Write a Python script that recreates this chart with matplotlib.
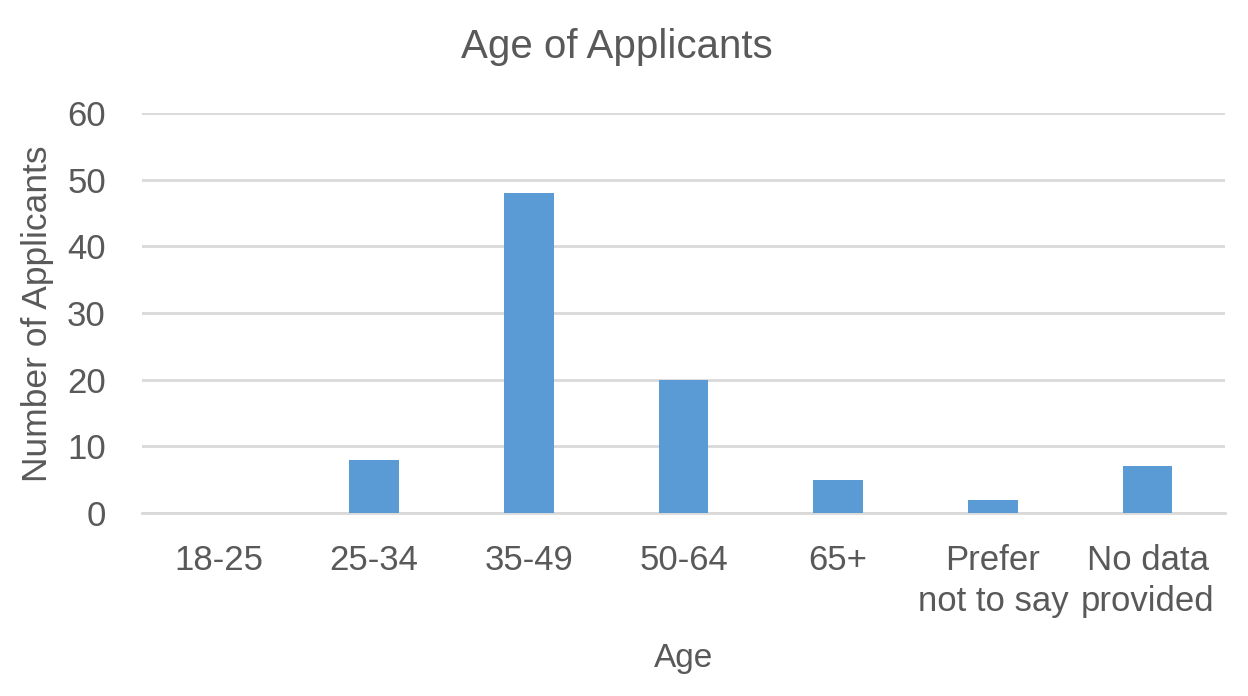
import numpy as np
import matplotlib.pyplot as plt

plt.rcParams['font.family'] = ['Liberation Sans', 'DejaVu Sans']

categories = ["18-25", "25-34", "35-49", "50-64", "65+", "Prefer\nnot to say", "No data\nprovided"]
applicants = [0, 8, 48, 20, 5, 2, 7]
y_ticks = [0, 10, 20, 30, 40, 50, 60]

text_color = "#595959"
bar_color = "#5B9BD5"
grid_color = "#D9D9D9"

W, H = 1248, 696
fig = plt.figure(figsize=(W / 100, H / 100), dpi=100)
ax = fig.add_axes([142 / W, 1 - 513 / H, (1225 - 142) / W, 400 / H])

x = np.arange(len(categories))
ax.bar(x, applicants, width=0.32, color=bar_color, zorder=3)

ax.set_xlim(-0.5, len(categories) - 0.5)
ax.set_ylim(0, 60)
ax.set_yticks(y_ticks)
ax.set_xticks(x)
ax.set_xticklabels(categories, linespacing=1.32)
ax.yaxis.grid(True, color=grid_color, linewidth=2, zorder=0)
ax.tick_params(axis='both', length=0, labelsize=25, colors=text_color)
ax.tick_params(axis='y', pad=26)
ax.tick_params(axis='x', pad=22)
for s in ["top", "right", "left"]:
    ax.spines[s].set_visible(False)
ax.spines["bottom"].set_color(grid_color)
ax.spines["bottom"].set_linewidth(2)

fig.text(617 / W, 1 - 47 / H, "Age of Applicants", fontsize=29, color=text_color,
         ha='center', va='center')
fig.text(684 / W, 1 - 658 / H, "Age", fontsize=24, color=text_color,
         ha='center', va='center')
fig.text(38 / W, 1 - 314 / H, "Number of Applicants", fontsize=25.5, color=text_color,
         ha='center', va='center', rotation=90)

fig.savefig("out.png", dpi=100)
